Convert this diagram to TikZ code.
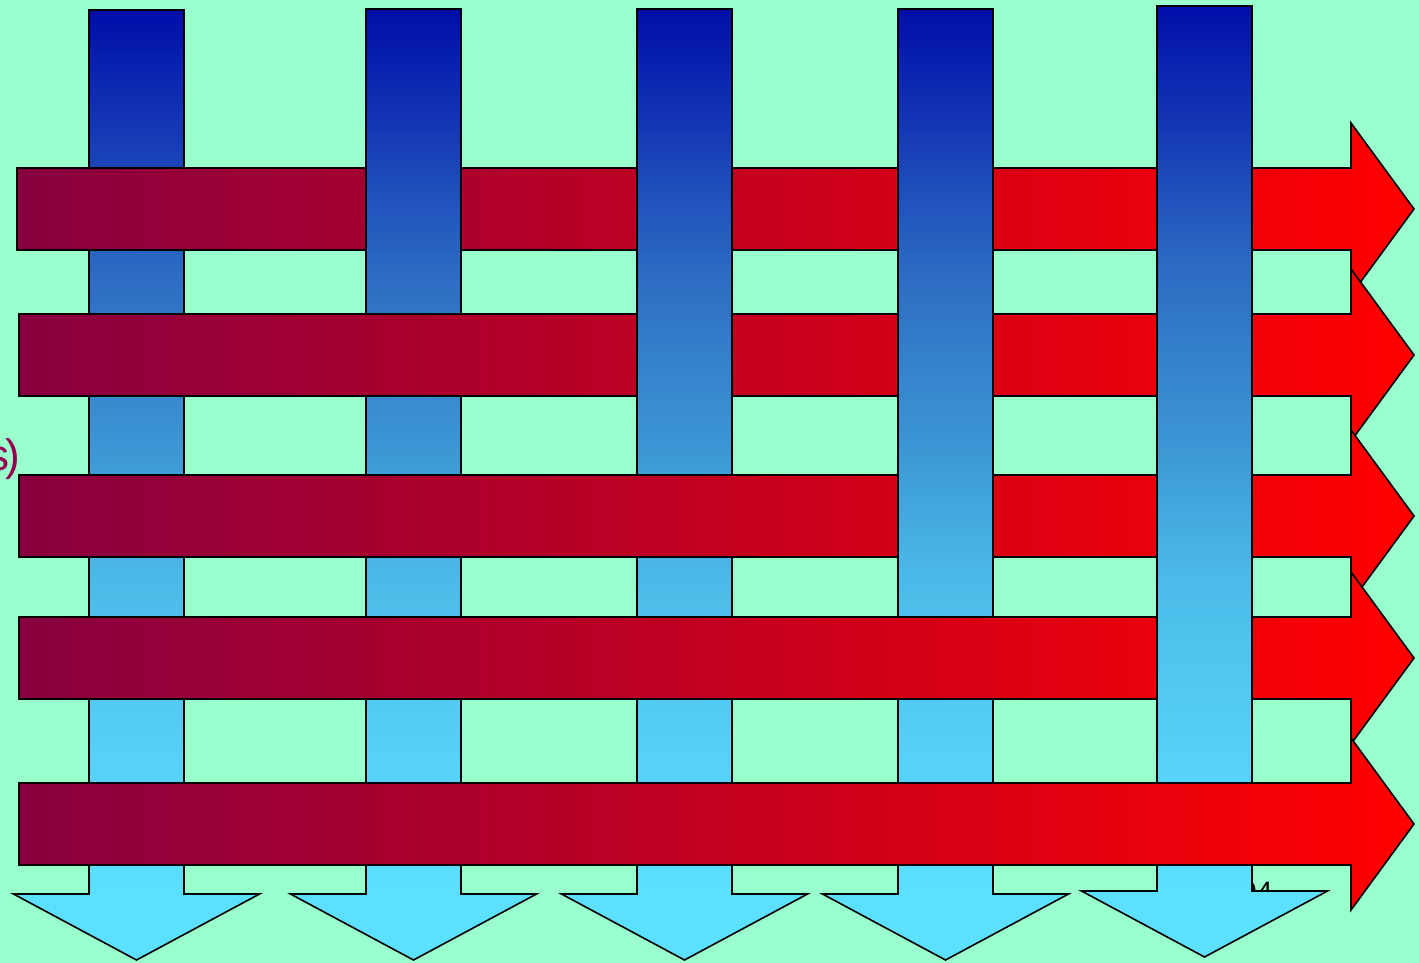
\documentclass[tikz,border=0pt]{standalone}
\usepackage{fontspec}
\setmainfont{Liberation Sans}
\definecolor{mint}{RGB}{153,255,204}
\definecolor{vtop}{RGB}{0,14,170}
\definecolor{vc1}{RGB}{45,108,195}
\definecolor{vc2}{RGB}{60,150,212}
\definecolor{vc3}{RGB}{75,186,232}
\definecolor{vc4}{RGB}{86,208,247}
\definecolor{vbot}{RGB}{92,224,255}
\definecolor{hleft}{RGB}{136,0,64}
\definecolor{hright}{RGB}{255,0,0}
\definecolor{txtred}{RGB}{150,0,80}
\pgfdeclareverticalshading{vshade}{100bp}{color(0bp)=(vbot); color(25bp)=(vbot); color(28.5bp)=(vbot); color(36bp)=(vc4); color(45bp)=(vc3); color(52bp)=(vc2); color(61bp)=(vc1); color(75bp)=(vtop); color(100bp)=(vtop)}
\tikzset{
  varrow/.style={draw=black, line width=1.6pt, line join=miter, shade, shading=vshade},
  harrow/.style={draw=black, line width=1.6pt, line join=miter, left color=hleft, right color=hright},
  lbl/.style={inner sep=0pt, font=\fontsize{44}{50}\selectfont}
}
\newcommand{\VArr}[3]{%
  \path[varrow] ({#1-47.5},#2) -- ({#1+47.5},#2) -- ({#1+47.5},#3) -- ({#1+123},#3)
    -- (#1,{#3+66}) -- ({#1-123},#3) -- ({#1-47.5},#3) -- cycle;}
\newcommand{\HArr}[2]{%
  \path[harrow] (#1,{#2-41}) -- (1351,{#2-41}) -- (1351,{#2-86}) -- (1414,#2)
    -- (1351,{#2+86}) -- (1351,{#2+41}) -- (#1,{#2+41}) -- cycle;}
\begin{document}
\begin{tikzpicture}[x=1pt,y=-1pt]
\useasboundingbox[fill=mint] (0,0) rectangle (1419,963);
\node[lbl, text=txtred, anchor=base east] (ltext) at (20,470) {s\kern-4pt)};
\node[lbl, text=black, anchor=base west, font=\fontsize{28}{32}\selectfont] (ytext) at (1241,901) {04};
\VArr{136.5}{10}{894}
\HArr{17}{209}
\VArr{413.5}{9}{894}
\HArr{19}{355}
\VArr{684.5}{9}{894}
\HArr{19}{516}
\VArr{945.5}{9}{894}
\HArr{19}{658}
\VArr{1204.5}{6}{891}
\HArr{19}{824}
\end{tikzpicture}
\end{document}
